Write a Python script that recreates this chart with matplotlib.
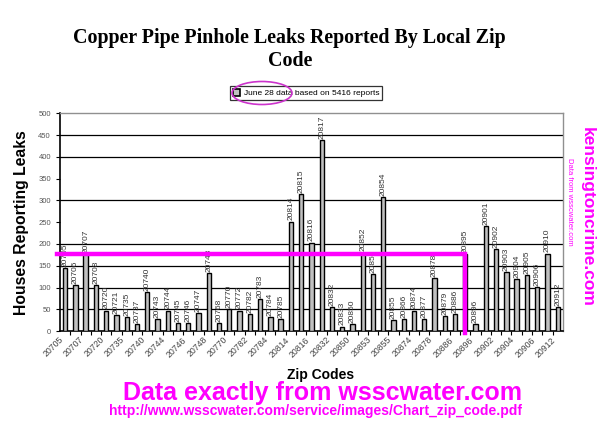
import matplotlib
matplotlib.use("Agg")
import matplotlib.pyplot as plt
from matplotlib.patches import Patch, Ellipse

# Zip codes and houses reporting leaks
zip_codes = ["20705", "20706", "20707", "20708", "20720", "20721", "20735", "20737",
             "20740", "20743", "20744", "20745", "20746", "20747", "20748", "20768",
             "20770", "20772", "20782", "20783", "20784", "20785", "20814", "20815",
             "20816", "20817", "20832", "20833", "20850", "20852", "20853", "20854",
             "20855", "20866", "20874", "20877", "20878", "20879", "20886", "20895",
             "20896", "20901", "20902", "20903", "20904", "20905", "20906", "20910",
             "20912"]
leaks = [145, 105, 176, 105, 47, 36, 32, 16,
         90, 27, 47, 18, 18, 41, 133, 18,
         50, 47, 39, 73, 32, 28, 251, 314,
         203, 438, 55, 10, 16, 180, 131, 308,
         25, 28, 47, 28, 121, 34, 39, 176,
         16, 241, 188, 136, 119, 128, 101, 178,
         55]

legend_text = "June 28 data based on 5416 reports"
highlight_zip = "20895"   # Kensington
grid_levels = [50, 100, 150, 200, 300, 400, 450]

MAGENTA = "#ff00ff"

fig = plt.figure(figsize=(6, 4.24), dpi=100)
ax = fig.add_axes([0.1, 0.219, 0.838, 0.514])

x = list(range(len(zip_codes)))
bars = ax.bar(x, leaks, width=0.42, color="#c0c0c0", edgecolor="black",
              linewidth=1.0, zorder=3)

# zip code written above each bar
for xi, v, z in zip(x, leaks, zip_codes):
    ax.text(xi, v + 3, z, rotation=90, ha="center", va="bottom",
            fontsize=6, color="#333333", family="Liberation Sans", zorder=4)

for g in grid_levels:
    ax.axhline(g, color="black", linewidth=0.9, zorder=1)

ax.set_xlim(-0.5, len(zip_codes) - 0.5)
ax.set_ylim(0, 500)
ax.set_yticks(range(0, 501, 50))
ax.tick_params(axis="y", labelsize=5.5, labelcolor="#555555", length=3,
               direction="out", width=0.8)
for lab in ax.get_yticklabels():
    lab.set_family("Liberation Sans")

# labels on every other category, tick marks between categories
ax.set_xticks(x[::2])
ax.set_xticklabels(zip_codes[::2], rotation=45, ha="right", fontsize=6.3,
                   color="#444444", family="Liberation Sans")
ax.tick_params(axis="x", length=0, pad=3)
ax.set_xticks([i + 0.5 for i in x[:-1]], minor=True)
ax.tick_params(axis="x", which="minor", length=3, width=0.8, direction="out")

for side in ["left", "bottom"]:
    ax.spines[side].set_color("black")
    ax.spines[side].set_linewidth(1.2)
for side in ["top", "right"]:
    ax.spines[side].set_color("#909090")
    ax.spines[side].set_linewidth(1.0)

ax.set_ylabel("Houses Reporting Leaks", fontsize=11.3, fontweight="bold",
              family="Liberation Sans", labelpad=7)

# magenta marker at the Kensington bar
hi = zip_codes.index(highlight_zip)
hv = leaks[hi]
ax.plot([-0.8, hi, hi], [hv, hv, -4], color=MAGENTA, linewidth=3.2,
        solid_joinstyle="miter", clip_on=False, zorder=5)

# legend
leg = ax.legend(handles=[Patch(facecolor="#c0c0c0", edgecolor="black", linewidth=1.2)],
                labels=[legend_text], loc="center",
                bbox_to_anchor=(306 / 600, 1 - 93 / 424), bbox_transform=fig.transFigure,
                prop={"family": "Liberation Sans", "size": 6}, frameon=True,
                fancybox=False, borderpad=0.3, handlelength=0.9, handleheight=0.9,
                handletextpad=0.4, borderaxespad=0)
leg.get_frame().set_edgecolor("black")
leg.get_frame().set_linewidth(0.9)
fig.add_artist(Ellipse((262 / 600, 1 - 93 / 424), 60 / 600, 23 / 424,
                       transform=fig.transFigure, fill=False,
                       edgecolor="#cc33cc", linewidth=1.2, zorder=10))

# title and captions
fig.text(0.483, 1 - 50 / 424, "Copper Pipe Pinhole Leaks Reported By Local Zip\nCode",
         ha="center", va="center", fontsize=14.4, fontweight="bold",
         family="Liberation Serif", linespacing=1.2)
fig.text(0.535, 1 - 375 / 424, "Zip Codes", ha="center", va="center",
         fontsize=10, fontweight="bold", family="Liberation Sans")
fig.text(0.538, 1 - 393 / 424, "Data exactly from wsscwater.com", ha="center",
         va="center", fontsize=18, fontweight="bold", color=MAGENTA,
         family="Liberation Sans")
fig.text(0.525, 1 - 411 / 424,
         "http://www.wsscwater.com/service/images/Chart_zip_code.pdf",
         ha="center", va="center", fontsize=10, fontweight="bold", color=MAGENTA,
         family="Liberation Sans")
fig.text(587 / 600, 1 - 217 / 424, "kensingtoncrime.com", rotation=-90,
         ha="center", va="center", fontsize=12.5, fontweight="bold", color=MAGENTA,
         family="Liberation Sans")
fig.text(569 / 600, 1 - 202 / 424, "Data from wsscwater.com", rotation=-90,
         ha="center", va="center", fontsize=5.5, color=MAGENTA,
         family="Liberation Sans")

fig.savefig("out.png", dpi=100)
